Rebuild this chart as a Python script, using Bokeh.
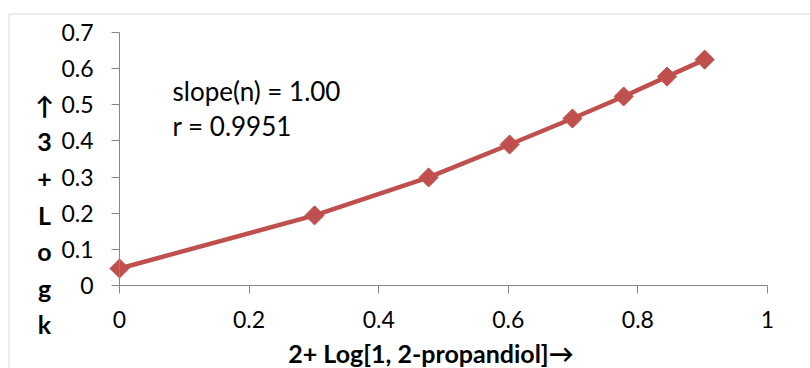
from bokeh.plotting import figure
from bokeh.models import Range1d, FixedTicker, Label, BoxAnnotation
from bokeh.embed import file_html
from bokeh.resources import INLINE

# ---- data ----
x_vals = [0.0, 0.301, 0.477, 0.602, 0.699, 0.778, 0.845, 0.903]
y_vals = [0.047, 0.194, 0.299, 0.390, 0.462, 0.523, 0.578, 0.625]
x_ticks = [0, 0.2, 0.4, 0.6, 0.8, 1]
x_tick_labels = ["0", "0.2", "0.4", "0.6", "0.8", "1"]
y_ticks = [0, 0.1, 0.2, 0.3, 0.4, 0.5, 0.6, 0.7]
y_tick_labels = ["0", "0.1", "0.2", "0.3", "0.4", "0.5", "0.6", "0.7"]
x_title = "2+ Log[1, 2-propandiol]\u2192"
y_title_chars = ["\u2191", "3", "+", "L", "o", "g", "k"]
note_lines = ["slope(n) = 1.00", "r = 0.9951"]

RED = "#C0504D"
AXIS = "#868686"
FONT = "Lato"

W, H = 810, 368
PX_X = 648.0      # pixels per x unit
PX_Y = 361.43     # pixels per y unit
X0, Y0 = 119.0, 285.0   # pixel position of the origin

p = figure(width=W, height=H, output_backend="svg", toolbar_location=None,
           x_range=Range1d(-X0 / PX_X, (W - X0) / PX_X),
           y_range=Range1d(-(H - Y0) / PX_Y, Y0 / PX_Y),
           min_border=0)
p.outline_line_color = None
p.xgrid.grid_line_color = None
p.ygrid.grid_line_color = None
p.background_fill_color = "white"
p.border_fill_color = "white"

for ax in (p.xaxis[0], p.yaxis[0]):
    ax.axis_line_color = AXIS
    ax.major_tick_line_color = AXIS
    ax.minor_tick_line_color = None
    ax.major_tick_out = 8
    ax.major_tick_in = 0
    ax.major_label_text_font = FONT
    ax.major_label_text_font_size = "23px"
    ax.major_label_text_color = "#000000"
    ax.fixed_location = 0

p.xaxis.ticker = FixedTicker(ticks=x_ticks)
p.xaxis.major_label_overrides = {t: l for t, l in zip(x_ticks, x_tick_labels)}
p.xaxis.bounds = (x_ticks[0], x_ticks[-1])
p.xaxis.major_label_standoff = 17

p.yaxis.ticker = FixedTicker(ticks=y_ticks)
p.yaxis.major_label_overrides = {t: l for t, l in zip(y_ticks, y_tick_labels)}
p.yaxis.bounds = (y_ticks[0], y_ticks[-1])
p.yaxis.major_label_standoff = 18

p.line(x_vals, y_vals, line_color=RED, line_width=4.5)
p.scatter(x_vals, y_vals, marker="square", angle=0.785398, size=13.5,
          fill_color=RED, line_color=RED)

# chart border (top + left)
p.add_layout(BoxAnnotation(left=(8.5 - X0) / PX_X, right=3, top=(Y0 - 13.5) / PX_Y, bottom=-2,
                           fill_alpha=0, line_color=AXIS, line_width=1))

# notes
p.add_layout(Label(x=0.0818, y=0.5381, text=note_lines[0], text_font=FONT,
                   text_font_size="26px", text_color="#000000",
                   text_align="left", text_baseline="alphabetic"))
p.add_layout(Label(x=0.0818, y=0.4413, text=note_lines[1], text_font=FONT,
                   text_font_size="26px", text_color="#000000",
                   text_align="left", text_baseline="alphabetic"))

# axis titles
p.add_layout(Label(x=0.4807, y=-0.1855, text=x_title, text_font=FONT,
                   text_font_size="25px", text_font_style="bold", text_color="#000000",
                   text_align="center", text_baseline="alphabetic"))
p.add_layout(Label(x=-0.1157, y=0.1964, text="\n".join(y_title_chars), text_font=FONT,
                   text_font_size="25px", text_font_style="bold", text_color="#000000",
                   text_align="center", text_baseline="middle", text_line_height=1.22))

open("out.html", "w").write(file_html(p, INLINE))
